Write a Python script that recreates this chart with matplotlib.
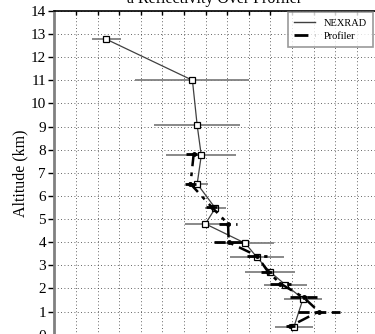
import matplotlib.pyplot as plt
from matplotlib.lines import Line2D

plt.rcParams['font.family'] = ['Liberation Serif', 'DejaVu Serif']

# NEXRAD reflectivity profile (x in grid units, altitude in km)
nex_alt = [12.77, 11.0, 9.05, 7.75, 6.52, 5.47, 4.79, 3.95, 3.34, 2.73, 2.16, 1.55, 0.31]
nex_val = [2.41, 6.39, 6.61, 6.80, 6.61, 7.45, 6.99, 8.84, 9.38, 9.97, 10.69, 11.51, 11.08]
nex_err = [0.67, 2.64, 1.98, 1.63, 0.49, 0.50, 0.96, 1.31, 1.25, 1.16, 1.00, 0.89, 0.89]

# Profiler profile
pro_alt = [7.82, 6.52, 5.50, 4.79, 3.99, 3.41, 2.73, 2.21, 1.61, 1.00, 0.37]
pro_val = [6.45, 6.30, 7.30, 8.04, 8.07, 9.38, 9.88, 10.46, 11.54, 12.24, 10.93]
pro_err = [0.35, 0.27, 0.30, 0.42, 0.70, 0.47, 0.31, 0.50, 0.62, 0.96, 0.20]

fig = plt.figure(figsize=(3.75, 3.34), dpi=100)
ax = fig.add_axes([54.4 / 375, -0.002, 324 / 375, 0.9695])

ax.errorbar(nex_val, nex_alt, xerr=nex_err, color='#404040', lw=0.9,
            ecolor='#808080', elinewidth=1.3, capsize=0,
            marker='s', ms=5, mfc='white', mec='black', mew=0.9, zorder=3)
eb = ax.errorbar(pro_val, pro_alt, xerr=pro_err, color='black', lw=1.8,
                 ls=(0, (5, 2.5, 1.5, 2.5)), ecolor='black', elinewidth=2,
                 capsize=0, marker='o', ms=2.5, zorder=4)
eb[2][0].set_linestyle((0, (4, 2)))

ax.set_xlim(0, 15)
ax.set_ylim(0, 14)
ax.set_yticks(range(0, 15))
ax.set_xticks(range(1, 15))
ax.grid(True, color='#303030', ls=(0, (1, 3)), lw=0.6)

ax.spines['right'].set_visible(False)
ax.spines['bottom'].set_visible(False)
ax.spines['left'].set_color('#808080')
ax.spines['left'].set_linewidth(2)
ax.spines['top'].set_linewidth(1.2)

ax.tick_params(axis='y', direction='out', length=4, width=1, labelsize=11, pad=2)
ax.tick_params(axis='x', bottom=False, labelbottom=False, top=True,
               direction='in', length=3, width=1)
ax.set_ylabel('Altitude (km)', fontsize=11.5, labelpad=2)

handles = [Line2D([], [], color='#404040', lw=1),
           Line2D([], [], color='black', lw=2, ls=(0, (5, 2.5, 1.5, 2.5)))]
leg = ax.legend(handles, ['NEXRAD', 'Profiler'], loc='upper right',
                bbox_to_anchor=(373 / 375, 1 - 12 / 334),
                bbox_transform=fig.transFigure, fontsize=7.5, frameon=True,
                fancybox=False, handlelength=2.0, borderpad=0.6,
                labelspacing=0.4, handletextpad=0.8, borderaxespad=0)
leg.get_frame().set_edgecolor('#808080')
leg.get_frame().set_linewidth(1.2)

fig.text(0.571, 1 - 3 / 334, 'a Reflectivity Over Profiler', ha='center',
         va='baseline', fontsize=11.5)

fig.savefig('out.png', dpi=100)
